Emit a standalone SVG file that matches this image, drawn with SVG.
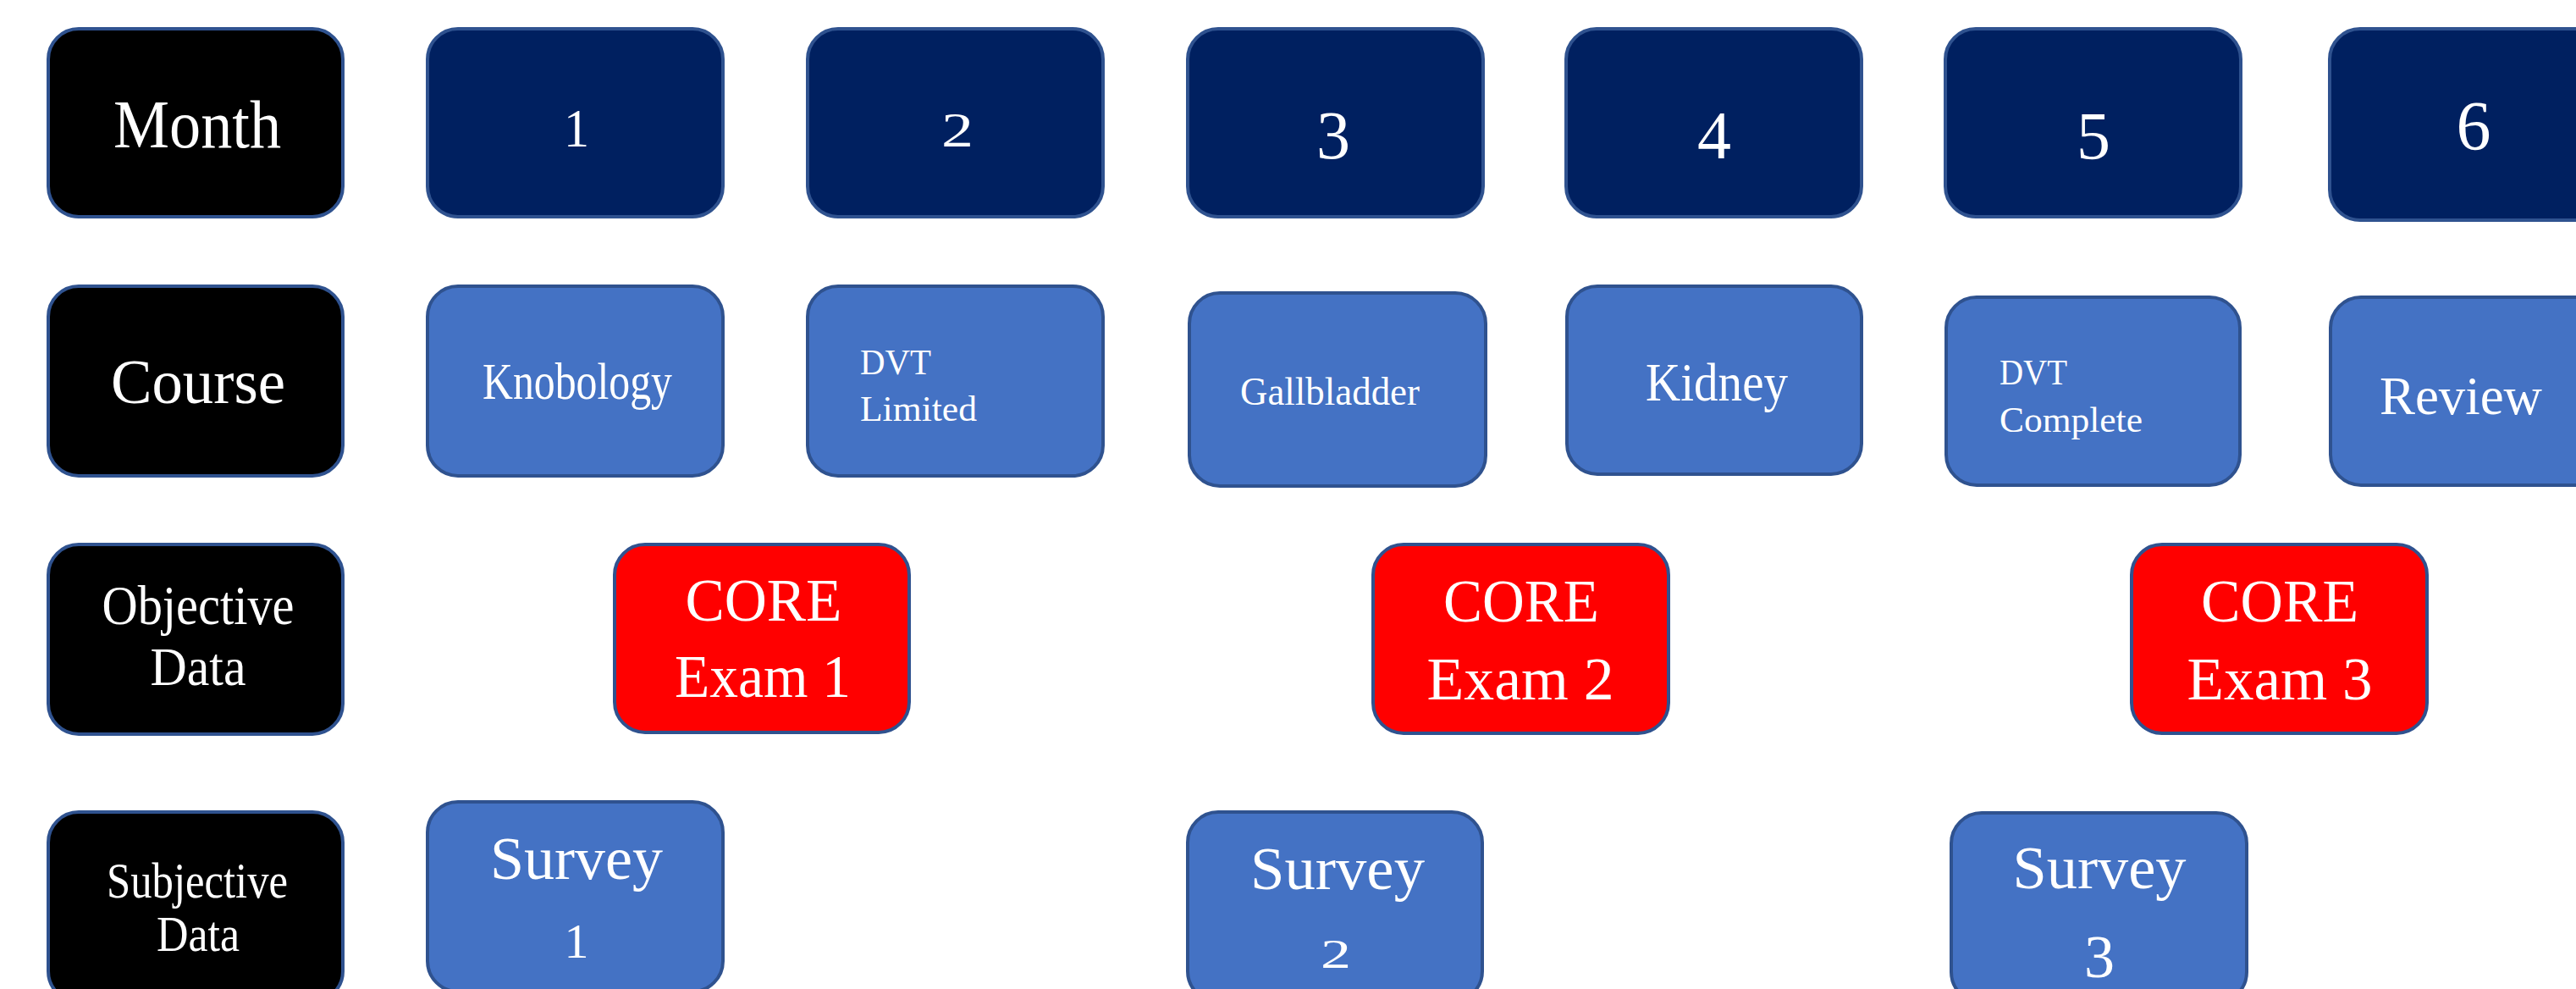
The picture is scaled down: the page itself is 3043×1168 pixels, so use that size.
<svg xmlns="http://www.w3.org/2000/svg" width="3043" height="1168" viewBox="0 0 3043 1168">
<style>
.box{stroke:#2F528F;stroke-width:4}
.lbl{fill:#000000}
.mon{fill:#002060}
.crs{fill:#4472C4}
.ex{fill:#FF0000}
text{font-family:"Liberation Serif","Times New Roman",serif;fill:#FFFFFF}
.c{text-anchor:middle}
</style>
<rect width="3043" height="1168" fill="#FFFFFF"/>
<g id="connectors"></g>

<g id="label-month"><rect class="box lbl" x="57" y="34" width="348" height="222" rx="36"/>
<text class="c" x="233" y="174" font-size="80" textLength="198" lengthAdjust="spacingAndGlyphs">Month</text></g>
<g id="label-course"><rect class="box lbl" x="57" y="338" width="348" height="224" rx="36"/>
<text class="c" x="234" y="476" font-size="75" textLength="206" lengthAdjust="spacingAndGlyphs">Course</text></g>
<g id="label-objective"><rect class="box lbl" x="57" y="643" width="348" height="224" rx="36"/>
<text class="c" x="234" y="737" font-size="65" textLength="227" lengthAdjust="spacingAndGlyphs">Objective</text>
<text class="c" x="234" y="809" font-size="64" textLength="113" lengthAdjust="spacingAndGlyphs">Data</text></g>
<g id="label-subjective"><rect class="box lbl" x="57" y="959" width="348" height="224" rx="36"/>
<text class="c" x="233" y="1060" font-size="60" textLength="214" lengthAdjust="spacingAndGlyphs">Subjective</text>
<text class="c" x="234" y="1123" font-size="59" textLength="98" lengthAdjust="spacingAndGlyphs">Data</text></g>

<g id="month-1"><rect class="box mon" x="505" y="34" width="349" height="222" rx="36"/>
<text class="c" x="681" y="173" font-size="64" textLength="30" lengthAdjust="spacingAndGlyphs">1</text></g>
<g id="month-2"><rect class="box mon" x="954" y="34" width="349" height="222" rx="36"/>
<text class="c" x="1131" y="173" font-size="56" textLength="38" lengthAdjust="spacingAndGlyphs">2</text></g>
<g id="month-3"><rect class="box mon" x="1403" y="34" width="349" height="222" rx="36"/>
<text class="c" x="1575" y="187" font-size="80">3</text></g>
<g id="month-4"><rect class="box mon" x="1850" y="34" width="349" height="222" rx="36"/>
<text class="c" x="2025" y="187" font-size="80">4</text></g>
<g id="month-5"><rect class="box mon" x="2298" y="34" width="349" height="222" rx="36"/>
<text class="c" x="2473" y="188" font-size="80">5</text></g>
<g id="month-6"><rect class="box mon" x="2752" y="34" width="349" height="226" rx="36"/>
<text class="c" x="2922" y="176" font-size="82">6</text></g>

<g id="course-knobology"><rect class="box crs" x="505" y="338" width="349" height="224" rx="36"/>
<text class="c" x="682" y="471" font-size="61" textLength="224" lengthAdjust="spacingAndGlyphs">Knobology</text></g>
<g id="course-dvt-limited"><rect class="box crs" x="954" y="338" width="349" height="224" rx="36"/>
<text x="1016" y="442" font-size="43" textLength="84" lengthAdjust="spacingAndGlyphs">DVT</text>
<text x="1016" y="497" font-size="43" textLength="138" lengthAdjust="spacingAndGlyphs">Limited</text></g>
<g id="course-gallbladder"><rect class="box crs" x="1405" y="346" width="350" height="228" rx="36"/>
<text class="c" x="1571" y="478" font-size="47" textLength="212" lengthAdjust="spacingAndGlyphs">Gallbladder</text></g>
<g id="course-kidney"><rect class="box crs" x="1851" y="338" width="348" height="222" rx="36"/>
<text class="c" x="2028" y="473" font-size="64" textLength="168" lengthAdjust="spacingAndGlyphs">Kidney</text></g>
<g id="course-dvt-complete"><rect class="box crs" x="2299" y="351" width="347" height="222" rx="36"/>
<text x="2362" y="454" font-size="43" textLength="80" lengthAdjust="spacingAndGlyphs">DVT</text>
<text x="2362" y="510" font-size="43" textLength="169" lengthAdjust="spacingAndGlyphs">Complete</text></g>
<g id="course-review"><rect class="box crs" x="2753" y="351" width="349" height="222" rx="36"/>
<text class="c" x="2907" y="489" font-size="63" textLength="192" lengthAdjust="spacingAndGlyphs">Review</text></g>

<g id="core-exam-1"><rect class="box ex" x="726" y="643" width="348" height="222" rx="36"/>
<text class="c" x="902" y="733" font-size="72" textLength="185" lengthAdjust="spacingAndGlyphs">CORE</text>
<text class="c" x="901" y="823" font-size="72" textLength="208" lengthAdjust="spacingAndGlyphs">Exam 1</text></g>
<g id="core-exam-2"><rect class="box ex" x="1622" y="643" width="349" height="223" rx="36"/>
<text class="c" x="1797" y="734" font-size="72" textLength="184" lengthAdjust="spacingAndGlyphs">CORE</text>
<text class="c" x="1796" y="826" font-size="72" textLength="221" lengthAdjust="spacingAndGlyphs">Exam 2</text></g>
<g id="core-exam-3"><rect class="box ex" x="2518" y="643" width="349" height="223" rx="36"/>
<text class="c" x="2693" y="734" font-size="72" textLength="186" lengthAdjust="spacingAndGlyphs">CORE</text>
<text class="c" x="2693" y="826" font-size="72" textLength="219" lengthAdjust="spacingAndGlyphs">Exam 3</text></g>

<g id="survey-1"><rect class="box crs" x="505" y="947" width="349" height="224" rx="36"/>
<text class="c" x="681" y="1038" font-size="72" textLength="204" lengthAdjust="spacingAndGlyphs">Survey</text>
<text class="c" x="681" y="1131" font-size="58">1</text></g>
<g id="survey-2"><rect class="box crs" x="1403" y="959" width="348" height="224" rx="36"/>
<text class="c" x="1580" y="1050" font-size="72" textLength="206" lengthAdjust="spacingAndGlyphs">Survey</text>
<text class="c" x="1578" y="1143" font-size="48" textLength="36" lengthAdjust="spacingAndGlyphs">2</text></g>
<g id="survey-3"><rect class="box crs" x="2305" y="960" width="349" height="224" rx="36"/>
<text class="c" x="2480" y="1049" font-size="72" textLength="205" lengthAdjust="spacingAndGlyphs">Survey</text>
<text class="c" x="2480" y="1154" font-size="72">3</text></g>
</svg>
